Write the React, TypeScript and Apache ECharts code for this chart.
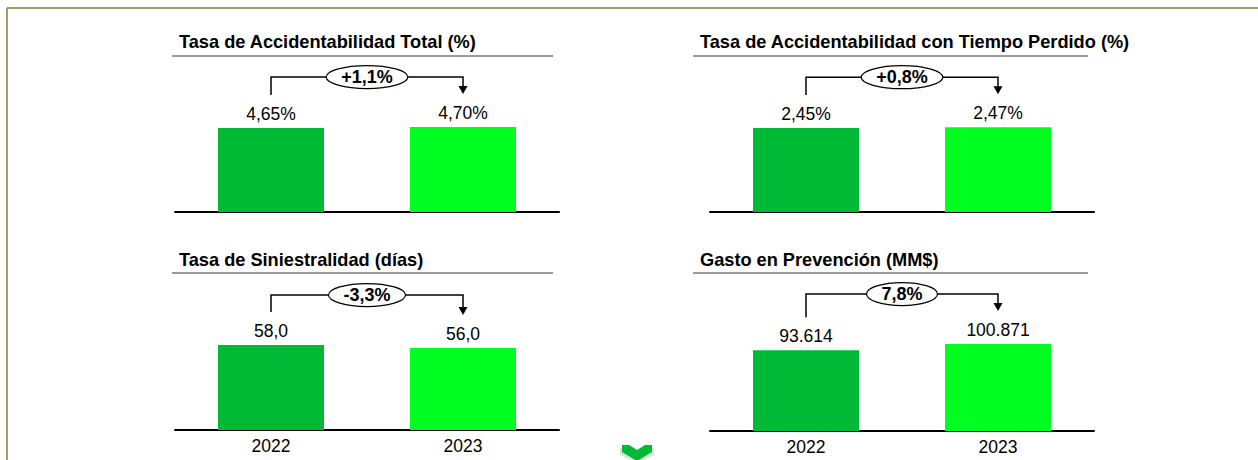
import React, { useEffect, useRef } from "react";
import * as echarts from "echarts";

const years = ["2022", "2023"];
const panelTitles = [
  "Tasa de Accidentabilidad Total (%)",
  "Tasa de Accidentabilidad con Tiempo Perdido (%)",
  "Tasa de Siniestralidad (días)",
  "Gasto en Prevención (MM$)",
];
const accTotal = [4.65, 4.7];
const accTiempoPerdido = [2.45, 2.47];
const siniestralidad = [58.0, 56.0];
const gastoPrevencion = [93614, 100871];
const changeLabels = ["+1,1%", "+0,8%", "-3,3%", "7,8%"];
const axisMax = [8.3, 4.37, 102.4, 174000];

const FONT = "'Liberation Sans', Arial, sans-serif";
const barColors = ["#00B934", "#00FF21"];

const pct2 = (v: number) => v.toFixed(2).replace(".", ",") + "%";
const dec1 = (v: number) => v.toFixed(1).replace(".", ",");
const thousands = (v: number) => String(v).replace(/\B(?=(\d{3})+(?!\d))/g, ".");

const panels = [
  { data: accTotal, fmt: pct2, left: 175, top: 62, titleLeft: 179, titleTop: 33, lineY: 56, showCat: false },
  { data: accTiempoPerdido, fmt: pct2, left: 710, top: 62, titleLeft: 700, titleTop: 33, lineY: 56, showCat: false },
  { data: siniestralidad, fmt: dec1, left: 175, top: 280, titleLeft: 179, titleTop: 251, lineY: 273, showCat: true },
  { data: gastoPrevencion, fmt: thousands, left: 710, top: 281, titleLeft: 700, titleTop: 251, lineY: 273, showCat: true },
];

function measure(text: string, font: string) {
  const c = document.createElement("canvas");
  const ctx = c.getContext("2d");
  if (!ctx) return text.length * 9;
  ctx.font = font;
  return ctx.measureText(text).width;
}

export default function App() {
  const ref = useRef<HTMLDivElement>(null);
  useEffect(() => {
    if (!ref.current) return;
    const chart = echarts.init(ref.current, undefined, { renderer: "svg" });
    const option: any = {
      animation: false,
      backgroundColor: "#ffffff",
      title: panels.map((p, i) => ({
        text: panelTitles[i],
        left: p.titleLeft,
        top: p.titleTop,
        padding: 0,
        textStyle: { fontFamily: FONT, fontSize: 18.2, fontWeight: "bold", color: "#000" },
      })),
      grid: panels.map((p) => ({ left: p.left, top: p.top, width: 384, height: 150 })),
      xAxis: panels.map((p, i) => ({
        type: "category",
        gridIndex: i,
        data: years,
        axisLine: { show: true, lineStyle: { color: "#000", width: 2 } },
        axisTick: { show: false },
        axisLabel: { show: p.showCat, margin: 7, fontFamily: FONT, fontSize: 17.5, color: "#000" },
      })),
      yAxis: panels.map((p, i) => ({
        type: "value",
        gridIndex: i,
        min: 0,
        max: axisMax[i],
        show: false,
        splitLine: { show: false },
      })),
      series: panels.map((p, i) => ({
        type: "bar",
        xAxisIndex: i,
        yAxisIndex: i,
        barWidth: 106,
        data: p.data.map((v, j) => ({ value: v, itemStyle: { color: barColors[j] } })),
        label: {
          show: true,
          position: "top",
          distance: 5,
          fontFamily: FONT,
          fontSize: 17.5,
          color: "#000",
          formatter: (d: any) => p.fmt(d.value),
        },
      })),
    };
    chart.setOption(option);

    const graphics: any[] = [];
    // frame
    graphics.push({ type: "line", shape: { x1: 7, y1: 8, x2: 1258, y2: 8 }, style: { stroke: "#9d9d6e", lineWidth: 2 } });
    graphics.push({ type: "line", shape: { x1: 7, y1: 8, x2: 7, y2: 460 }, style: { stroke: "#9d9d6e", lineWidth: 2 } });

    panels.forEach((p, i) => {
      // title underline
      graphics.push({
        type: "line",
        shape: { x1: p.titleLeft - 7, y1: p.lineY, x2: p.left + 378, y2: p.lineY },
        style: { stroke: "#7a7a7a", lineWidth: 1.5 },
      });
      const a = chart.convertToPixel({ seriesIndex: i }, [0, p.data[0]]) as number[];
      const b = chart.convertToPixel({ seriesIndex: i }, [1, p.data[1]]) as number[];
      const hy = Math.min(a[1], b[1]) - 50;
      const leftEnd = a[1] - 33;
      const tip = b[1] - 33;
      const cx = (a[0] + b[0]) / 2;
      const font = `bold 18px ${FONT}`;
      const tw = measure(changeLabels[i], font);
      const rx = tw / 2 + 15;
      graphics.push({
        type: "polyline",
        shape: { points: [[a[0], leftEnd], [a[0], hy], [b[0], hy], [b[0], tip - 7]] },
        style: { stroke: "#000", lineWidth: 1.5, fill: null },
      });
      graphics.push({
        type: "polygon",
        shape: { points: [[b[0] - 4.5, tip - 8], [b[0] + 4.5, tip - 8], [b[0], tip]] },
        style: { fill: "#000" },
      });
      graphics.push({
        type: "ellipse",
        shape: { cx, cy: hy, rx, ry: 11.5 },
        style: { fill: "#fff", stroke: "#000", lineWidth: 1.2 },
      });
      graphics.push({
        type: "text",
        x: cx,
        y: hy,
        style: {
          text: changeLabels[i],
          font,
          fill: "#000",
          align: "center",
          verticalAlign: "middle",
          textAlign: "center",
          textVerticalAlign: "middle",
        },
      });
    });

    // chevron
    graphics.push({
      type: "polygon",
      shape: { points: [[620, 448], [628, 448], [637, 454], [646, 448], [654, 448], [654, 455], [637, 463], [620, 455]] },
      style: { fill: "#d8e0da" },
    });
    graphics.push({
      type: "polygon",
      shape: { points: [[622, 445], [629, 445], [637, 450], [645, 445], [652, 445], [652, 452], [637, 461], [622, 452]] },
      style: { fill: "#00B934" },
    });

    chart.setOption({ graphic: graphics });
    return () => chart.dispose();
  }, []);
  return (
    <div
      ref={ref}
      style={{ position: "fixed", left: 0, top: 0, width: 1258, height: 460, background: "#fff" }}
    />
  );
}
